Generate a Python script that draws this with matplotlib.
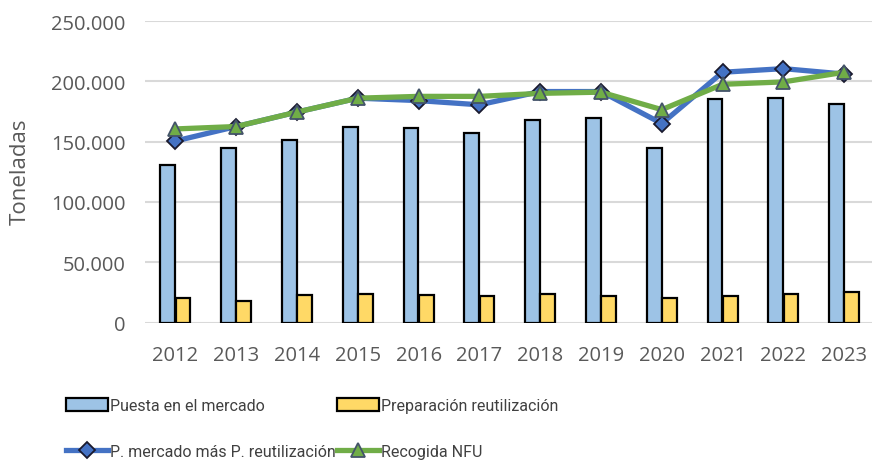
import numpy as np
import matplotlib.pyplot as plt
from matplotlib.ticker import FuncFormatter

years = ["2012", "2013", "2014", "2015", "2016", "2017",
         "2018", "2019", "2020", "2021", "2022", "2023"]

puesta_mercado = [131000, 145000, 151500, 162000, 161000, 157500,
                  167500, 169500, 145000, 185000, 186500, 181000]
prep_reutilizacion = [20000, 17500, 23000, 24000, 23000, 22000,
                      24000, 22000, 20000, 22000, 24000, 25000]
mercado_mas_reut = [150500, 162500, 174500, 186000, 184000, 180500,
                    191500, 191500, 165000, 207500, 210500, 206000]
recogida_nfu = [160500, 162500, 174500, 186000, 187500, 187500,
                190000, 191000, 176500, 197500, 199500, 207500]

plt.rcParams["font.family"] = ["Open Sans", "DejaVu Sans"]

fig = plt.figure(figsize=(8.72, 4.64), dpi=100)
ax = fig.add_axes([145 / 872, 140.5 / 464, 729.6 / 872, 301.5 / 464])

x = np.arange(len(years))
w = 0.245
grey = "#595959"

b1 = ax.bar(x - 0.125, puesta_mercado, w, color="#9DC3E6", edgecolor="black",
            linewidth=1.6, zorder=2)
b2 = ax.bar(x + 0.125, prep_reutilizacion, w, color="#FFD966",
            edgecolor="black", linewidth=1.6, zorder=2)
l1, = ax.plot(x, mercado_mas_reut, color="#4472C4", linewidth=3.8, marker="D",
              markersize=8, markerfacecolor="#4472C4",
              markeredgecolor="#1a1a2e", markeredgewidth=1.3, zorder=3)
l2, = ax.plot(x, recogida_nfu, color="#70AD47", linewidth=3.8, marker="^",
              markersize=10, markerfacecolor="#70AD47",
              markeredgecolor="#44546A", markeredgewidth=1.3, zorder=4)

ax.set_xlim(-0.5, len(years) - 0.5)
ax.set_ylim(0, 250000)
ax.set_yticks(np.arange(0, 250001, 50000))
ax.yaxis.set_major_formatter(
    FuncFormatter(lambda v, p: f"{int(v):,}".replace(",", ".")))
ax.set_xticks(x)
ax.set_xticklabels(years)
ax.tick_params(axis="both", length=0, colors=grey, labelsize=14.5)
ax.tick_params(axis="x", pad=16)
ax.tick_params(axis="y", pad=14)
ax.grid(axis="y", color="#d9d9d9", linewidth=1.5, zorder=0)
ax.set_axisbelow(True)
for s in ax.spines.values():
    s.set_visible(False)

fig.text(20 / 872, 1 - 172 / 464, "Toneladas", rotation=90, ha="center",
         va="center", fontsize=16, color=grey)

# column-major order: col 1 = bar 1 / line 1, col 2 = bar 2 / line 2
handles = [b1, l1, b2, l2]
labels = ["Puesta en el mercado", "P. mercado más P. reutilización",
          "Preparación reutilización", "Recogida NFU"]
fig.legend(handles, labels, ncol=2,
           loc="upper left", bbox_to_anchor=(66 / 872, 1 - 399 / 464),
           frameon=False, borderpad=0, borderaxespad=0,
           prop={"family": ["Roboto", "Open Sans"], "size": 11.5},
           labelcolor="#404040", handlelength=2.6, handleheight=0.9,
           handletextpad=0.15, columnspacing=0.1, labelspacing=1.9)

fig.savefig("out.png", dpi=100)
